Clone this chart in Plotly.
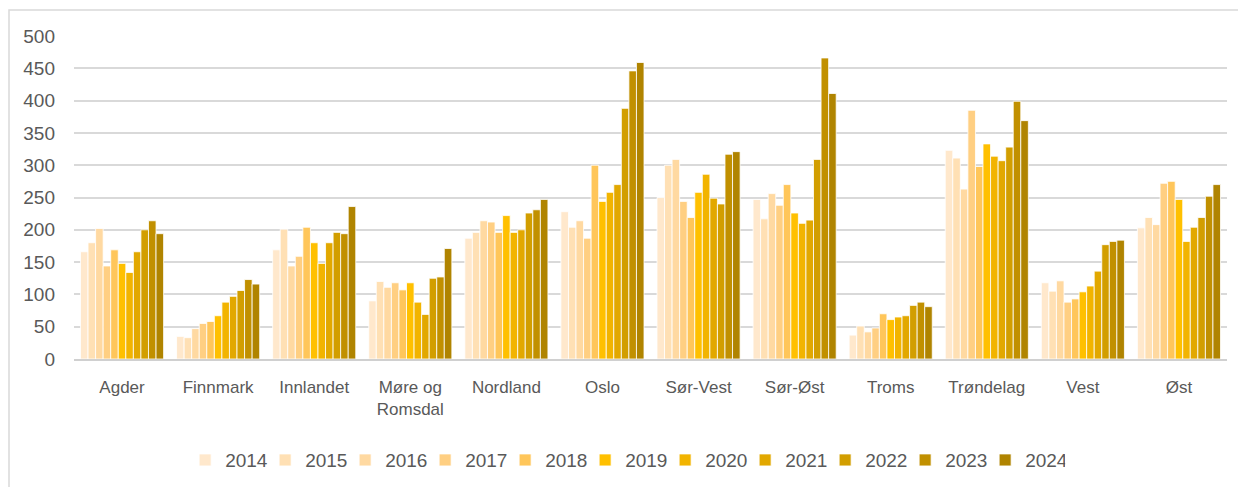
import plotly.graph_objects as go

# regions on the x axis
regions = ["Agder", "Finnmark", "Innlandet", "Møre og<br>Romsdal", "Nordland", "Oslo",
           "Sør-Vest", "Sør-Øst", "Troms", "Trøndelag", "Vest", "Øst"]
years = ["2014", "2015", "2016", "2017", "2018", "2019", "2020", "2021", "2022", "2023", "2024"]

# values per region, one number per year 2014..2024
agder = [166, 180, 202, 144, 169, 148, 134, 166, 200, 214, 194]
finnmark = [35, 33, 47, 55, 58, 67, 88, 97, 106, 123, 116]
innlandet = [169, 201, 144, 159, 204, 180, 148, 180, 196, 194, 236]
more_romsdal = [90, 120, 111, 118, 107, 118, 88, 69, 125, 127, 171]
nordland = [187, 196, 214, 212, 196, 222, 196, 200, 226, 231, 247]
oslo = [228, 204, 214, 187, 300, 244, 258, 270, 388, 446, 459]
sor_vest = [250, 300, 309, 244, 219, 258, 286, 249, 240, 317, 321]
sor_ost = [247, 217, 256, 238, 270, 226, 210, 215, 309, 466, 411]
troms = [37, 51, 42, 48, 70, 61, 65, 67, 83, 88, 81]
trondelag = [323, 311, 263, 385, 298, 333, 314, 307, 328, 399, 369]
vest = [118, 105, 121, 88, 93, 104, 113, 136, 177, 182, 184]
ost = [203, 219, 208, 272, 275, 247, 182, 204, 219, 252, 270]

by_region = [agder, finnmark, innlandet, more_romsdal, nordland, oslo,
             sor_vest, sor_ost, troms, trondelag, vest, ost]

colors = ['#FFE8CC', '#FFE0B4', '#FFD9A1', '#FFCF82', '#FFC65A', '#FFC000',
          '#F2B400', '#E2A800', '#D29E00', '#C19000', '#B08400']

text_col = '#595959'
font_name = 'Liberation Sans, Arial, sans-serif'

fig = go.Figure()
for i, yr in enumerate(years):
    fig.add_trace(go.Bar(x=regions, y=[r[i] for r in by_region], name=yr,
                         marker=dict(color=colors[i], line=dict(color='white', width=0.8))))

# page body has an 8px margin, so the figure is a bit smaller than the window
fig.update_layout(
    width=1238, height=479,
    paper_bgcolor='white', plot_bgcolor='white',
    margin=dict(l=66, r=19, t=28, b=128, autoexpand=False),
    barmode='group', bargap=0.135, bargroupgap=0,
    font=dict(family=font_name, color=text_col, size=17),
    legend=dict(orientation='h', x=0.478, xanchor='center', y=-0.313, yanchor='middle',
                font=dict(size=19, color=text_col), entrywidth=35, entrywidthmode='pixels',
                itemwidth=30, traceorder='normal'),
    xaxis=dict(showgrid=False, showline=True, linecolor='#D0D0D0', linewidth=1.5,
               automargin=False,
               ticks='', tickfont=dict(size=17, color=text_col), ticklabelstandoff=12),
    yaxis=dict(range=[0, 500], dtick=50, showgrid=True, gridcolor='#D9D9D9', gridwidth=1.5,
               automargin=False,
               zeroline=False, ticks='', tickfont=dict(size=19, color=text_col),
               ticklabelstandoff=18),
    shapes=[dict(type='rect', xref='paper', yref='paper',
                 x0=-65 / 1153, x1=1.0 + 40 / 1153, y0=-150 / 323, y1=1.0 + 26 / 323,
                 line=dict(color='#D9D9D9', width=1.5), fillcolor='rgba(0,0,0,0)')],
)

fig.write_html("out.html")
